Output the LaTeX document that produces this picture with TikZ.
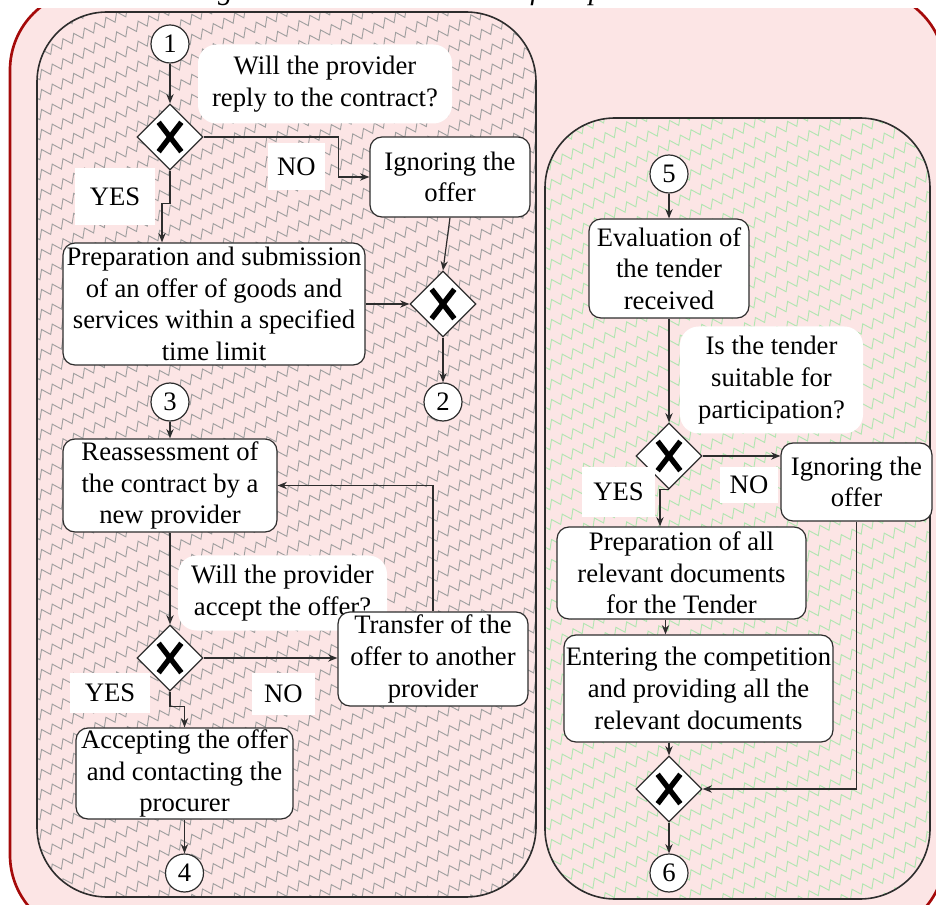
\documentclass[tikz,border=0pt]{standalone}
\usepackage{fontspec}
\setmainfont{Liberation Serif}
\usetikzlibrary{shapes.geometric,decorations.pathmorphing,arrows.meta,calc}
\definecolor{bgpink}{RGB}{252,229,229}
\definecolor{framered}{RGB}{165,10,10}
\definecolor{lanegray}{RGB}{160,160,160}
\definecolor{lanegreen}{RGB}{178,230,178}
\definecolor{ink}{RGB}{45,45,45}

\begin{document}
\begin{tikzpicture}[x=0.75pt,y=-0.75pt,
  every node/.style={font=\rmfamily\fontsize{20}{23.8}\selectfont},
  task/.style={draw=ink,line width=0.9pt,fill=white,rounded corners=9pt,inner sep=0pt,align=center},
  gate/.style={diamond,draw=ink,line width=0.9pt,fill=white,inner sep=0pt,
    minimum width=49.5pt,minimum height=49.5pt,
    path picture={\draw[line width=4pt,black]
      ([shift={(-8.5pt,-11pt)}]path picture bounding box.center) --
      ([shift={(8.5pt,11pt)}]path picture bounding box.center)
      ([shift={(-8.5pt,11pt)}]path picture bounding box.center) --
      ([shift={(8.5pt,-11pt)}]path picture bounding box.center);}},
  ref/.style={circle,draw=ink,line width=0.9pt,fill=white,minimum size=28.5pt,inner sep=0pt},
  blob/.style={fill=white,rounded corners=14pt,inner sep=0pt,align=center},
  tag/.style={fill=white,inner sep=0pt},
  conn/.style={draw=ink,line width=0.9pt,-{Stealth[length=7pt,width=5.5pt]}},
  zz/.style={decorate,decoration={zigzag,segment length=9pt,amplitude=3.2pt},line width=0.7pt},
  lane/.style={draw=ink,line width=1.2pt,rounded corners=52.5pt}]

\useasboundingbox (0,0) rectangle (936,905);
\clip (0,0) rectangle (936,905);

% outer frame and caption strip
\draw[framered,line width=2pt,fill=bgpink,rounded corners=60pt] (10,-10) rectangle (945,935);
\fill[white] (0,-20) rectangle (936,8);
\node[anchor=base,font=\rmfamily\fontsize{22}{26}\selectfont\itshape] (title) at (477,0)
  {Fig. 3 Flow value contract of the provider's side};

% left lane with grey zigzag hatching
\begin{scope}
  \clip[rounded corners=52.5pt] (37,12) rectangle (536,897);
  \foreach \k in {0,...,60} \draw[zz,lanegray] (30,\k*20) -- ++(520,-260);
\end{scope}
\draw[lane] (37,12) rectangle (536,897);

% right lane with green zigzag hatching
\begin{scope}
  \clip[rounded corners=52.5pt] (545,118) rectangle (930,899);
  \foreach \k in {0,...,52} \draw[zz,lanegreen] (540,110+\k*20) -- ++(400,-200);
\end{scope}
\draw[lane] (545,118) rectangle (930,899);

% left lane nodes
\node[ref] (c1) at (170,44) {1};
\node[blob,minimum width=190.5pt,minimum height=59.25pt] (q1) at (325,84) {Will the provider\\reply to the contract?};
\node[gate] (g1) at (170,137) {};
\node[tag,minimum width=42.75pt,minimum height=35.25pt] (no1) at (296.5,166.5) {NO};
\node[tag,minimum width=60pt,minimum height=42.75pt] (yes1) at (115,196.5) {YES};
\node[task,minimum width=120pt,minimum height=60pt] (ign1) at (450,177) {Ignoring the\\offer};
\node[task,minimum width=226.5pt,minimum height=91.5pt] (prep1) at (214,304)
  {Preparation and submission\\of an offer of goods and\\services within a specified\\time limit};
\node[gate] (g2) at (443,304) {};
\node[ref] (c2) at (443,402) {2};
\node[ref] (c3) at (170,402) {3};
\node[task,minimum width=160.5pt,minimum height=69.75pt] (reas) at (170,485.5) {Reassessment of\\the contract by a\\new provider};
\node[blob,minimum width=156.75pt,minimum height=56.25pt] (q2) at (282.5,593) {Will the provider\\accept the offer?};
\node[gate] (g3) at (170,658) {};
\node[task,minimum width=142.5pt,minimum height=70.5pt] (trans) at (433,659) {Transfer of the\\offer to another\\provider};
\node[tag,minimum width=47.25pt,minimum height=31.5pt] (no2) at (283.5,694) {NO};
\node[tag,minimum width=60pt,minimum height=30pt] (yes2) at (110,693) {YES};
\node[task,minimum width=162.75pt,minimum height=68.25pt] (acc) at (184.5,773.5) {Accepting the offer\\and contacting the\\procurer};
\node[ref] (c4) at (184.5,873) {4};

% right lane nodes
\node[ref] (c5) at (669,174) {5};
\node[task,minimum width=120pt,minimum height=74.25pt] (eval) at (669,268.5) {Evaluation of\\the tender\\received};
\node[blob,minimum width=137.25pt,minimum height=80.25pt] (q3) at (771.5,380) {Is the tender\\suitable for\\participation?};
\node[gate] (g4) at (669,456) {};
\node[tag,minimum width=43.5pt,minimum height=27pt] (no3) at (749,485) {NO};
\node[tag,minimum width=54.75pt,minimum height=37.5pt] (yes3) at (618.5,492) {YES};
\node[task,minimum width=113.25pt,minimum height=58.5pt] (ign2) at (856.5,482) {Ignoring the\\offer};
\node[task,minimum width=186.75pt,minimum height=69pt] (prep2) at (681.5,573) {Preparation of all\\relevant documents\\for the Tender};
\node[task,minimum width=201.75pt,minimum height=80.25pt] (ent) at (698.5,688.5) {Entering the competition\\and providing all the\\relevant documents};
\node[gate] (g5) at (669,789) {};
\node[ref] (c6) at (669,873) {6};

% left lane flow
\draw[conn] (c1.south) -- (g1.north);
\draw[conn] (g1.east) -- ++(135,0) |- (ign1.west);
\draw[conn] (g1.south) -- ++(0,33) -- ++(-8,0) coordinate (yb1) -- (yb1 |- prep1.north);
\draw[conn] (ign1.south) -- (g2.north);
\draw[conn] (prep1.east) -- (g2.west);
\draw[conn] (g2.south) -- (c2.north);
\draw[conn] (c3.south) -- (reas.north);
\draw[conn] (reas.south) -- (g3.north);
\draw[conn] (g3.east) -- (g3.east -| trans.west);
\draw[conn] (trans.north) |- (reas.east);
\draw[conn] (g3.south) -- ++(0,15) -| (acc.north);
\draw[conn] (acc.south) -- (c4.north);

% right lane flow
\draw[conn] (c5.south) -- (eval.north);
\draw[conn] (eval.south) -- (g4.north);
\draw[conn] (g4.east) -- (g4.east -| ign2.west);
\draw[conn] (g4.south) -- ++(-9,0) coordinate (yb3) -- (yb3 |- prep2.north);
\draw[conn] ($(prep2.south)+(-16,0)$) coordinate (p2s) -- (p2s |- ent.north);
\draw[conn] (g5.north |- ent.south) -- (g5.north);
\draw[conn] (ign2.south) |- (g5.east);
\draw[conn] (g5.south) -- (c6.north);

\end{tikzpicture}
\end{document}
